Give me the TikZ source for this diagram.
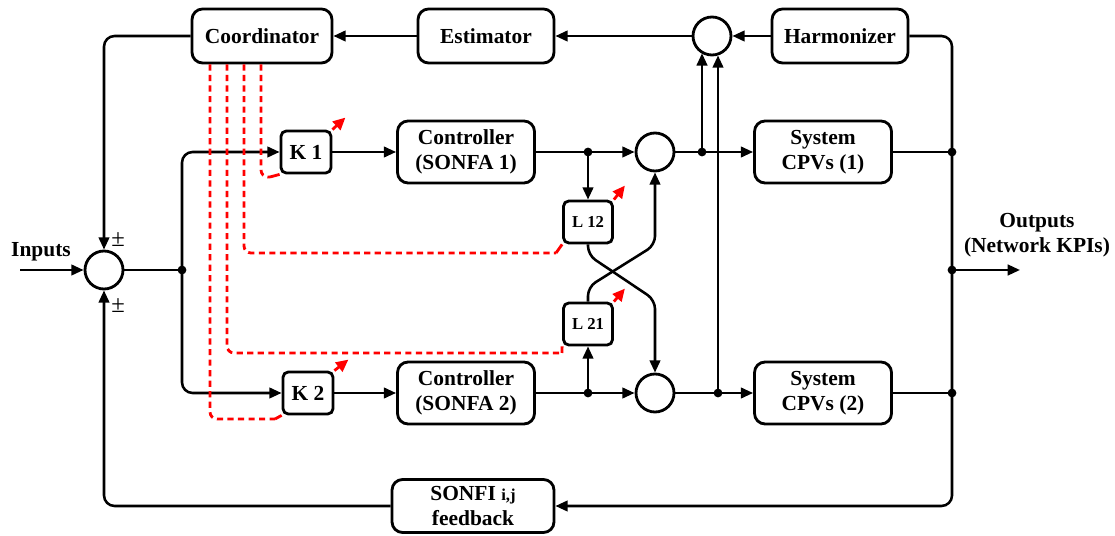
\documentclass[tikz,border=0pt]{standalone}
\usepackage{fontspec}
\setmainfont{Liberation Serif}
\usetikzlibrary{arrows.meta,calc}
\begin{document}
\begin{tikzpicture}[x=0.02cm,y=-0.02cm,
  line width=1.45pt,
  >={Triangle[length=7pt,width=6pt]},
  every node/.style={font=\bfseries\fontsize{12.2}{14.5}\selectfont},
  bigbox/.style={draw,line width=1.6pt,rounded corners=6pt,minimum height=1.08cm,align=center,inner sep=1pt},
  ctlbox/.style={bigbox,minimum width=2.74cm,minimum height=1.24cm},
  gainbox/.style={draw,line width=1.6pt,rounded corners=3pt,minimum width=1.0cm,minimum height=0.84cm,inner sep=1pt},
  lbox/.style={gainbox,minimum width=0.98cm,font=\bfseries\fontsize{9.5}{11}\selectfont},
  sumc/.style={draw,circle,line width=1.6pt,minimum size=0.76cm,inner sep=0pt},
  dot/.style={circle,fill,inner sep=0pt,minimum size=5pt},
  reddash/.style={red,line width=1.6pt,dash pattern=on 3.5pt off 2.5pt,rounded corners=4pt},
  redline/.style={red,line width=1.6pt},
  redarrow/.style={red,line width=1.6pt,-{Triangle[length=7pt,width=6.5pt]}},
  rnd/.style={rounded corners=6pt}
]
\useasboundingbox (0,0) rectangle (1115,536);

% nodes
\node[bigbox,minimum width=2.8cm] (coord) at (262,36) {Coordinator};
\node[bigbox,minimum width=2.72cm] (est) at (486,36) {Estimator};
\node[sumc] (stop) at (712,36) {};
\node[bigbox,minimum width=2.72cm] (harm) at (840,36) {Harmonizer};
\node[sumc] (sin) at (104,270) {};
\node[gainbox] (k1) at (306,152) {K 1};
\node[gainbox] (k2) at (308,393) {K 2};
\node[ctlbox] (c1) at (466,152) {Controller\\(SONFA 1)};
\node[ctlbox] (c2) at (466,393) {Controller\\(SONFA 2)};
\node[lbox] (l12) at (588,222) {L 12};
\node[lbox] (l21) at (588,324) {L 21};
\node[sumc] (s1) at (655,152) {};
\node[sumc] (s2) at (655,393) {};
\node[ctlbox] (sys1) at (823,152) {System\\CPVs (1)};
\node[ctlbox] (sys2) at (823,393) {System\\CPVs (2)};
\node[bigbox,minimum width=3.24cm,minimum height=1.06cm] (fb) at (473,506) {SONFI {\fontsize{9.5}{11}\selectfont i,j}\\feedback};

\node (inp) at (41,252) {Inputs};
\node[align=center] (outp) at (1037,235) {Outputs\\(Network KPIs)};
\node[font=\fontsize{14}{15}\selectfont] (pm1) at (118,240) {±};
\node[font=\fontsize{14}{15}\selectfont] (pm2) at (118,306) {±};

% coordinates
\coordinate (instart) at (20,270);
\coordinate (jin) at (182,270);
\coordinate (jc1) at (588,152);
\coordinate (jc2) at (588,393);
\coordinate (jo1) at (702,152);
\coordinate (jo2) at (718,393);
\coordinate (jr1) at (952,152);
\coordinate (jr2) at (952,270);
\coordinate (jr3) at (952,393);
\coordinate (rbot) at (952,506);
\coordinate (outend) at (1020,270);
\coordinate (x1) at (588,255);
\coordinate (x2) at (655,300);
\coordinate (x3) at (588,287);
\coordinate (x4) at (655,245);

% main signal flow
\draw[->] (instart) -- (sin.west);
\draw (sin.east) -- (jin);
\draw[->,rnd] (jin) |- (k1.west);
\draw[->,rnd] (jin) |- (k2.west);
\draw[->] (k1) -- (c1);
\draw[->] (k2) -- (c2);
\draw (c1.east) -- (jc1);
\draw[->] (jc1) -- (s1.west);
\draw[->] (jc1) -- (l12.north);
\draw (c2.east) -- (jc2);
\draw[->] (jc2) -- (s2.west);
\draw[->] (jc2) -- (l21.south);
\draw[->,rounded corners=5pt] (l12.south) -- (x1) -- (x2) -- (s2.north);
\draw[->,rounded corners=5pt] (l21.north) -- (x3) -- (x4) -- (s1.south);
\draw[->] (s1.east) -- (sys1.west);
\draw[->] (s2.east) -- (sys2.west);
\draw[->] (jo1) -- (jo1 |- stop.238);
\draw[->] (jo2) -- (jo2 |- stop.288);
\draw (sys1.east) -- (jr1);
\draw (sys2.east) -- (jr3);
\draw[->] (jr2) -- (outend);
\draw[->,rnd] (harm.east) -| (rbot) -- (fb.east);
\draw[->] (harm.west) -- (stop.east);
\draw[->] (stop.west) -- (est.east);
\draw[->] (est.west) -- (coord.east);
\draw[->,rnd] (coord.west) -| (sin.north);
\draw[->,rnd] (fb.west) -| (sin.south);

% junction dots
\foreach \p in {jin,jc1,jc2,jo1,jo2,jr1,jr2,jr3} \node[dot] at (\p) {};

% red coordination links
\coordinate (dk1) at (270,177);
\coordinate (dl12) at (556,253);
\coordinate (dl21) at (562,353);
\coordinate (dk2) at (275,419);
\draw[reddash] ($(coord.south)+(-1,0)$) |- (dk1);
\draw[reddash] ($(coord.south)+(-18,0)$) |- (dl12);
\draw[reddash] ($(coord.south)+(-35,0)$) |- (dl21);
\draw[reddash] ($(coord.south)+(-52,0)$) |- (dk2);
\draw[redline] (dk1) -- (k1.south west);
\draw[redline] (dl12) -- (l12.south west);
\draw[redline] (dl21) -- (l21.south west);
\draw[redline] (dk2) -- (k2.south west);
\draw[redarrow] (k1.north east) -- ++(13,-12);
\draw[redarrow] (l12.north east) -- ++(11,-14);
\draw[redarrow] (l21.north east) -- ++(11,-13);
\draw[redarrow] (k2.north east) -- ++(14,-11);
\end{tikzpicture}
\end{document}
